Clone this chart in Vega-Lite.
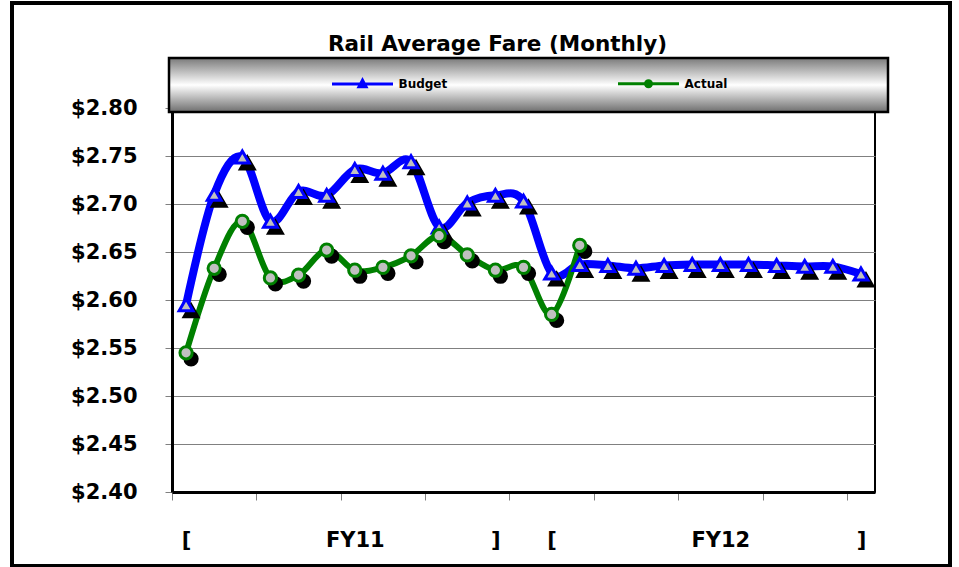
{
  "$schema": "https://vega.github.io/schema/vega-lite/v6.json",
  "width": 703,
  "height": 384,
  "autosize": {"type": "none"},
  "padding": {"left": 172, "top": 108, "right": 84, "bottom": 75},
  "background": "white",
  "title": {
    "text": "Rail Average Fare (Monthly)",
    "font": "DejaVu Sans",
    "fontSize": 21.5,
    "fontWeight": "bold",
    "color": "black",
    "anchor": "middle",
    "baseline": "alphabetic",
    "offset": 0,
    "dx": -26,
    "dy": 71.5
  },
  "data": {
    "values": [
      {"m": 1, "series": "Budget", "v": 2.595},
      {"m": 2, "series": "Budget", "v": 2.710},
      {"m": 3, "series": "Budget", "v": 2.749},
      {"m": 4, "series": "Budget", "v": 2.682},
      {"m": 5, "series": "Budget", "v": 2.713},
      {"m": 6, "series": "Budget", "v": 2.709},
      {"m": 7, "series": "Budget", "v": 2.736},
      {"m": 8, "series": "Budget", "v": 2.732},
      {"m": 9, "series": "Budget", "v": 2.744},
      {"m": 10, "series": "Budget", "v": 2.676},
      {"m": 11, "series": "Budget", "v": 2.701},
      {"m": 12, "series": "Budget", "v": 2.709},
      {"m": 13, "series": "Budget", "v": 2.703},
      {"m": 14, "series": "Budget", "v": 2.628},
      {"m": 15, "series": "Budget", "v": 2.637},
      {"m": 16, "series": "Budget", "v": 2.636},
      {"m": 17, "series": "Budget", "v": 2.633},
      {"m": 18, "series": "Budget", "v": 2.636},
      {"m": 19, "series": "Budget", "v": 2.637},
      {"m": 20, "series": "Budget", "v": 2.637},
      {"m": 21, "series": "Budget", "v": 2.637},
      {"m": 22, "series": "Budget", "v": 2.636},
      {"m": 23, "series": "Budget", "v": 2.635},
      {"m": 24, "series": "Budget", "v": 2.635},
      {"m": 25, "series": "Budget", "v": 2.627},
      {"m": 1, "series": "Actual", "v": 2.545},
      {"m": 2, "series": "Actual", "v": 2.633},
      {"m": 3, "series": "Actual", "v": 2.682},
      {"m": 4, "series": "Actual", "v": 2.623},
      {"m": 5, "series": "Actual", "v": 2.626},
      {"m": 6, "series": "Actual", "v": 2.652},
      {"m": 7, "series": "Actual", "v": 2.631},
      {"m": 8, "series": "Actual", "v": 2.634},
      {"m": 9, "series": "Actual", "v": 2.646},
      {"m": 10, "series": "Actual", "v": 2.667},
      {"m": 11, "series": "Actual", "v": 2.647},
      {"m": 12, "series": "Actual", "v": 2.631},
      {"m": 13, "series": "Actual", "v": 2.634},
      {"m": 14, "series": "Actual", "v": 2.585},
      {"m": 15, "series": "Actual", "v": 2.657}
    ]
  },
  "layer": [
    {
      "transform": [{"filter": "datum.series === 'Budget'"}],
      "mark": {"type": "line", "interpolate": "cardinal", "strokeWidth": 8},
      "encoding": {
        "x": {
          "field": "m",
          "type": "quantitative",
          "scale": {"domain": [0.5, 25.5], "nice": false, "zero": false},
          "axis": {
            "title": null,
            "grid": false,
            "values": [0.5, 1, 3.5, 6.5, 7, 9.5, 12, 12.5, 14, 15.5, 18.5, 20, 21.5, 24.5, 25],
            "labelExpr": "datum.value == 1 || datum.value == 14 ? '[' : (datum.value == 12 || datum.value == 25 ? ']' : (datum.value == 7 ? 'FY11' : (datum.value == 20 ? 'FY12' : '')))",
            "labelOverlap": false,
            "labelFlush": false,
            "labelFont": "DejaVu Sans",
            "labelFontSize": 21,
            "labelFontWeight": "bold",
            "labelColor": "black",
            "labelPadding": 29,
            "labelBaseline": "top",
            "tickSize": 8,
            "tickColor": "#808080",
            "tickWidth": 1,
            "tickOpacity": {"condition": {"test": "datum.value % 1 === 0.5", "value": 1}, "value": 0},
            "domainColor": "black",
            "domainWidth": 3
          }
        },
        "y": {
          "field": "v",
          "type": "quantitative",
          "scale": {"domain": [2.4, 2.8], "nice": false, "zero": false},
          "axis": {
            "title": null,
            "values": [2.4, 2.45, 2.5, 2.55, 2.6, 2.65, 2.7, 2.75, 2.8],
            "format": "$.2f",
            "labelFont": "DejaVu Sans",
            "labelFontSize": 21,
            "labelFontWeight": "bold",
            "labelColor": "black",
            "labelPadding": 28,
            "tickSize": 7,
            "tickColor": "#808080",
            "grid": true,
            "gridColor": "#808080",
            "gridWidth": 1,
            "domainColor": "black",
            "domainWidth": 3
          }
        },
        "color": {
          "field": "series",
          "type": "nominal",
          "scale": {"domain": ["Budget", "Actual"], "range": ["#0000ff", "#008000"]},
          "legend": {
            "orient": "none",
            "legendX": -3,
            "legendY": -50,
            "direction": "horizontal",
            "title": " ",
            "titleOrient": "left",
            "titleFontSize": 1,
            "titlePadding": 168,
            "padding": 19,
            "columnPadding": 164,
            "symbolSize": 100,
            "symbolStrokeWidth": 3,
            "labelOffset": 29.5,
            "labelFont": "DejaVu Sans",
            "labelFontSize": 12,
            "labelFontWeight": "bold",
            "labelColor": "black",
            "labelLimit": 300,
            "encode": {
              "legend": {
                "update": {
                  "fill": {"value": {"gradient": "linear", "x1": 0, "y1": 0, "x2": 0, "y2": 1, "stops": [{"offset": 0, "color": "#7a7a7a"}, {"offset": 0.5, "color": "#ffffff"}, {"offset": 1, "color": "#6e6e6e"}]}},
                  "stroke": {"value": "black"},
                  "strokeWidth": {"value": 2.5}
                }
              },
              "symbols": {
                "update": {
                  "shape": {"signal": "datum.value === 'Budget' ? 'M-6.1,0H6.1M0,-0.75L0.7,0.55H-0.7Z' : 'M-6.1,0H6.1M0.6,0A0.6,0.6,0,1,1,-0.6,0A0.6,0.6,0,1,1,0.6,0M42.8,0'"},
                  "size": {"value": 100},
                  "fill": {"value": "#f0f0f0"},
                  "stroke": {"scale": "color", "field": "value"},
                  "strokeWidth": {"value": 3},
                  "opacity": {"value": 1}
                }
              }
            }
          }
        }
      }
    },
    {
      "transform": [{"filter": "datum.series === 'Actual'"}],
      "mark": {"type": "line", "interpolate": "cardinal", "strokeWidth": 6},
      "encoding": {
        "x": {"field": "m", "type": "quantitative"},
        "y": {"field": "v", "type": "quantitative"},
        "color": {"field": "series", "type": "nominal"}
      }
    },
    {
      "transform": [{"filter": "datum.series === 'Budget'"}],
      "mark": {"type": "point", "shape": "triangle-up", "size": 190, "filled": true, "fill": "black", "stroke": "black", "strokeWidth": 3, "opacity": 1, "xOffset": 5, "yOffset": 6},
      "encoding": {
        "x": {"field": "m", "type": "quantitative"},
        "y": {"field": "v", "type": "quantitative"}
      }
    },
    {
      "transform": [{"filter": "datum.series === 'Actual'"}],
      "mark": {"type": "point", "shape": "circle", "size": 150, "filled": true, "fill": "black", "stroke": "black", "strokeWidth": 3, "opacity": 1, "xOffset": 5, "yOffset": 6},
      "encoding": {
        "x": {"field": "m", "type": "quantitative"},
        "y": {"field": "v", "type": "quantitative"}
      }
    },
    {
      "transform": [{"filter": "datum.series === 'Budget'"}],
      "mark": {"type": "point", "shape": "triangle-up", "size": 190, "filled": true, "fill": "#c0c0c0", "stroke": "#0000ff", "strokeWidth": 3, "opacity": 1},
      "encoding": {
        "x": {"field": "m", "type": "quantitative"},
        "y": {"field": "v", "type": "quantitative"}
      }
    },
    {
      "transform": [{"filter": "datum.series === 'Actual'"}],
      "mark": {"type": "point", "shape": "circle", "size": 150, "filled": true, "fill": "#c0c0c0", "stroke": "#008000", "strokeWidth": 3, "opacity": 1},
      "encoding": {
        "x": {"field": "m", "type": "quantitative"},
        "y": {"field": "v", "type": "quantitative"}
      }
    },
    {
      "mark": {"type": "rect", "filled": false, "stroke": "black", "strokeWidth": 3},
      "encoding": {
        "x": {"datum": -5.18, "type": "quantitative"},
        "x2": {"datum": 28.17},
        "y": {"datum": 2.9094, "type": "quantitative"},
        "y2": {"datum": 2.3229}
      }
    }
  ],
  "config": {
    "view": {"stroke": "black", "strokeWidth": 2},
    "font": "DejaVu Sans"
  }
}
